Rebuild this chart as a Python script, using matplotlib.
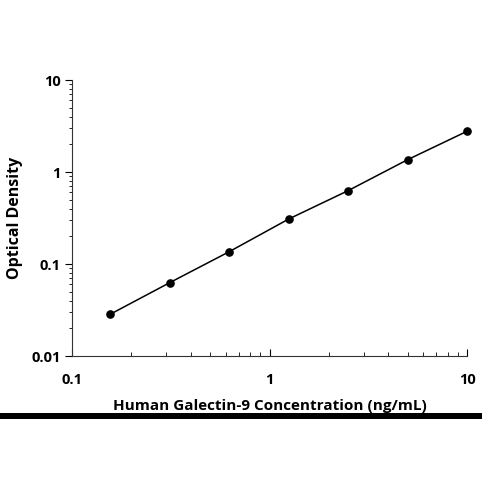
import matplotlib.pyplot as plt
from matplotlib.patches import Rectangle

# standard curve data
concentration = [0.156, 0.3125, 0.625, 1.25, 2.5, 5, 10]
optical_density = [0.0284, 0.0627, 0.136, 0.308, 0.627, 1.36, 2.77]

x_ticks = [0.1, 1, 10]
x_tick_labels = ["0.1", "1", "10"]
y_ticks = [0.01, 0.1, 1, 10]
y_tick_labels = ["0.01", "0.1", "1", "10"]

plt.rcParams["font.family"] = ["Open Sans", "DejaVu Sans"]

fig = plt.figure(figsize=(5, 5), dpi=100)
ax = fig.add_axes([0.144, 0.288, 0.79, 0.552])

ax.plot(concentration, optical_density, color="black", lw=1.1,
        marker="o", markersize=5.2, markerfacecolor="black", markeredgecolor="black",
        clip_on=False)

ax.set_xscale("log")
ax.set_yscale("log")
ax.set_xlim(0.1, 10)
ax.set_ylim(0.01, 10)

ax.set_xticks(x_ticks)
ax.set_xticklabels(x_tick_labels, fontsize=10.5, fontweight="bold")
ax.set_yticks(y_ticks)
ax.set_yticklabels(y_tick_labels, fontsize=10.5, fontweight="bold")

ax.tick_params(axis="x", which="major", direction="in", length=5, width=0.8, pad=12)
ax.tick_params(axis="x", which="minor", direction="in", length=3, width=0.6)
ax.tick_params(axis="y", which="major", direction="out", length=5, width=0.8, pad=3)
ax.tick_params(axis="y", which="minor", direction="out", length=2.5, width=0.6)

for side in ["top", "right"]:
    ax.spines[side].set_visible(False)
for side in ["left", "bottom"]:
    ax.spines[side].set_linewidth(0.8)
    ax.spines[side].set_color("#333333")

ax.set_xlabel("Human Galectin-9 Concentration (ng/mL)", fontsize=11, fontweight="bold", labelpad=9)
ax.set_ylabel("Optical Density", fontsize=11.5, fontweight="bold", labelpad=6)

# thick black rule under the chart
fig.add_artist(Rectangle((0, 0.162), 0.964, 0.013, transform=fig.transFigure,
                         facecolor="black", edgecolor="none"))

fig.savefig("out.png", dpi=100)
